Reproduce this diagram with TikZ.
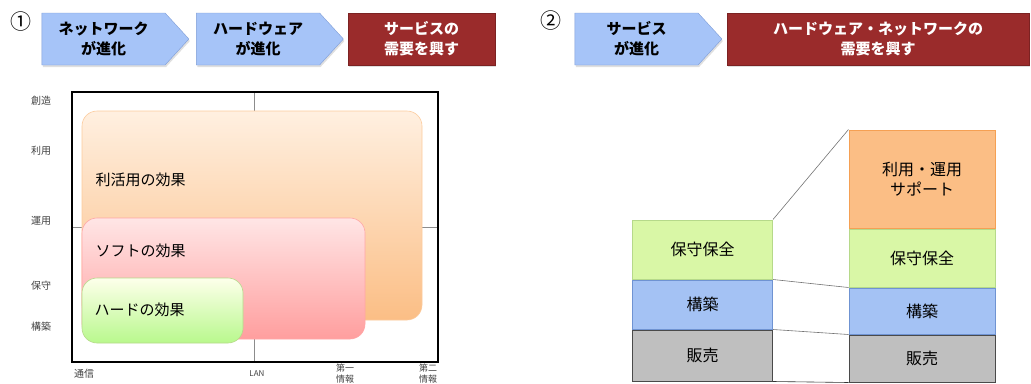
\documentclass[tikz,border=0pt]{standalone}
\usepackage{fontspec}
\setmainfont{Noto Sans CJK JP}
\usetikzlibrary{positioning,shapes.symbols,shadows}
\definecolor{chevfill}{HTML}{A6C4F8}
\definecolor{chevline}{HTML}{7E9CD6}
\definecolor{demred}{HTML}{9A2B2B}
\definecolor{layorange}{HTML}{FBBE85}
\definecolor{layorangeline}{HTML}{F5A053}
\definecolor{laygreen}{HTML}{D9F7A6}
\definecolor{laygreenline}{HTML}{B6D98A}
\definecolor{layblue}{HTML}{A4C2F4}
\definecolor{layblueline}{HTML}{6F93D2}
\definecolor{laygray}{HTML}{BFBFBF}
\definecolor{laygrayline}{HTML}{4A4A4A}
\tikzset{
  chevron/.style={
    signal,
    signal to=east,
    signal pointer angle=95,
    draw=chevline,
    fill=chevfill,
    minimum height=52pt,
    minimum width=147pt,
    inner sep=0pt,
    align=center,
    font=\bfseries\fontsize{15}{20}\selectfont,
    drop shadow={opacity=.25,shadow xshift=1pt,shadow yshift=-2pt}
  },
  demand/.style={
    rectangle,
    draw=demred!80!black,
    fill=demred,
    text=white,
    minimum height=52pt,
    inner sep=0pt,
    align=center,
    font=\bfseries\fontsize{15}{20}\selectfont,
    drop shadow={opacity=.25,shadow xshift=1pt,shadow yshift=-2pt}
  },
  effect/.style={rounded corners=15pt, line width=.6pt},
  efflabel/.style={anchor=west, font=\fontsize{15}{18}\selectfont},
  axlabel/.style={font=\fontsize{10}{13}\selectfont, text=black!75, align=center},
  layer/.style={
    draw,
    rectangle,
    minimum width=140pt,
    line width=1pt,
    align=center,
    font=\fontsize{16}{20}\selectfont
  },
  link/.style={draw=black!55, line width=.6pt}
}
\begin{document}
\begin{tikzpicture}[x=1pt,y=-1pt]
\useasboundingbox (0,0) rectangle (1031,383);

% first row
\node[font=\fontsize{21}{21}\selectfont] (n1) at (21,22) {①};
\node[chevron] (a) at (103.5,39) {ネットワーク\\が進化};
\node[chevron] (b) at (258,39) {ハードウェア\\が進化};
\node[demand, minimum width=147pt] (c) at (421.5,39) {サービスの\\需要を興す};

% chart
\draw[black!45, line width=.5pt] (254,92) -- (254,362);
\draw[black!45, line width=.5pt] (72,227) -- (438,227);
\draw[line width=1.6pt] (72,92) rectangle (438,362);
\path[effect, draw=layorange!80, top color=orange!12, bottom color=layorange] (82,111) rectangle (422,320);
\path[effect, draw=red!35, top color=red!10, bottom color=red!38] (82,218) rectangle (365,339);
\path[effect, draw=laygreenline, top color=green!8!yellow!8, bottom color=laygreen!85!green] (82,278) rectangle (243,343);
\node[efflabel] (u) at (92,180) {利活用の効果};
\node[efflabel] (s) at (92,251) {ソフトの効果};
\node[efflabel] (h) at (91,310) {ハードの効果};

\node[axlabel] (y1) at (41,101) {創造};
\node[axlabel] (y2) at (41,151) {利用};
\node[axlabel] (y3) at (41,221) {運用};
\node[axlabel] (y4) at (41,286) {保守};
\node[axlabel] (y5) at (41,327) {構築};

\node[axlabel] (x1) at (84,374) {通信};
\node[axlabel, font=\fontsize{8}{10}\selectfont] (x2) at (257,374) {LAN};
\node[axlabel, anchor=north, inner sep=0pt, font=\fontsize{9}{10.5}\selectfont] (x3) at (345,364) {第一\\情報};
\node[axlabel, anchor=north, inner sep=0pt, font=\fontsize{9}{10.5}\selectfont] (x4) at (428,364) {第二\\情報};

% second row
\node[font=\fontsize{21}{21}\selectfont] (n2) at (551,21) {②};
\node[chevron] (d) at (636.5,39) {サービス\\が進化};
\node[demand, minimum width=302pt] (e) at (878,39) {ハードウェア・ネットワークの\\需要を興す};

% stacks
\node[layer, draw=laygreenline, fill=laygreen, minimum height=59pt] (g1) at (702.5,249.5) {保守保全};
\node[layer, draw=layblueline, fill=layblue, minimum height=49pt, below=0pt of g1] (k1) {構築};
\node[layer, draw=laygrayline, fill=laygray, minimum height=51pt, below=0pt of k1] (m1) {販売};

\node[layer, draw=layorangeline, fill=layorange, minimum width=146pt, minimum height=98pt] (o2) at (922,179) {利用・運用\\サポート};
\node[layer, draw=laygreenline, fill=laygreen, minimum width=146pt, minimum height=58pt, below=0pt of o2] (g2) {保守保全};
\node[layer, draw=layblueline, fill=layblue, minimum width=146pt, minimum height=46pt, below=0pt of g2] (k2) {構築};
\node[layer, draw=laygrayline, fill=laygray, minimum width=146pt, minimum height=47pt, below=0pt of k2] (m2) {販売};

\draw[link] (g1.north east) -- (o2.north west);
\draw[link] (g1.south east) -- (g2.south west);
\draw[link] (k1.south east) -- (k2.south west);
\draw[link, draw=black!80] (m1.south east) -- (m2.south west);

\end{tikzpicture}
\end{document}
